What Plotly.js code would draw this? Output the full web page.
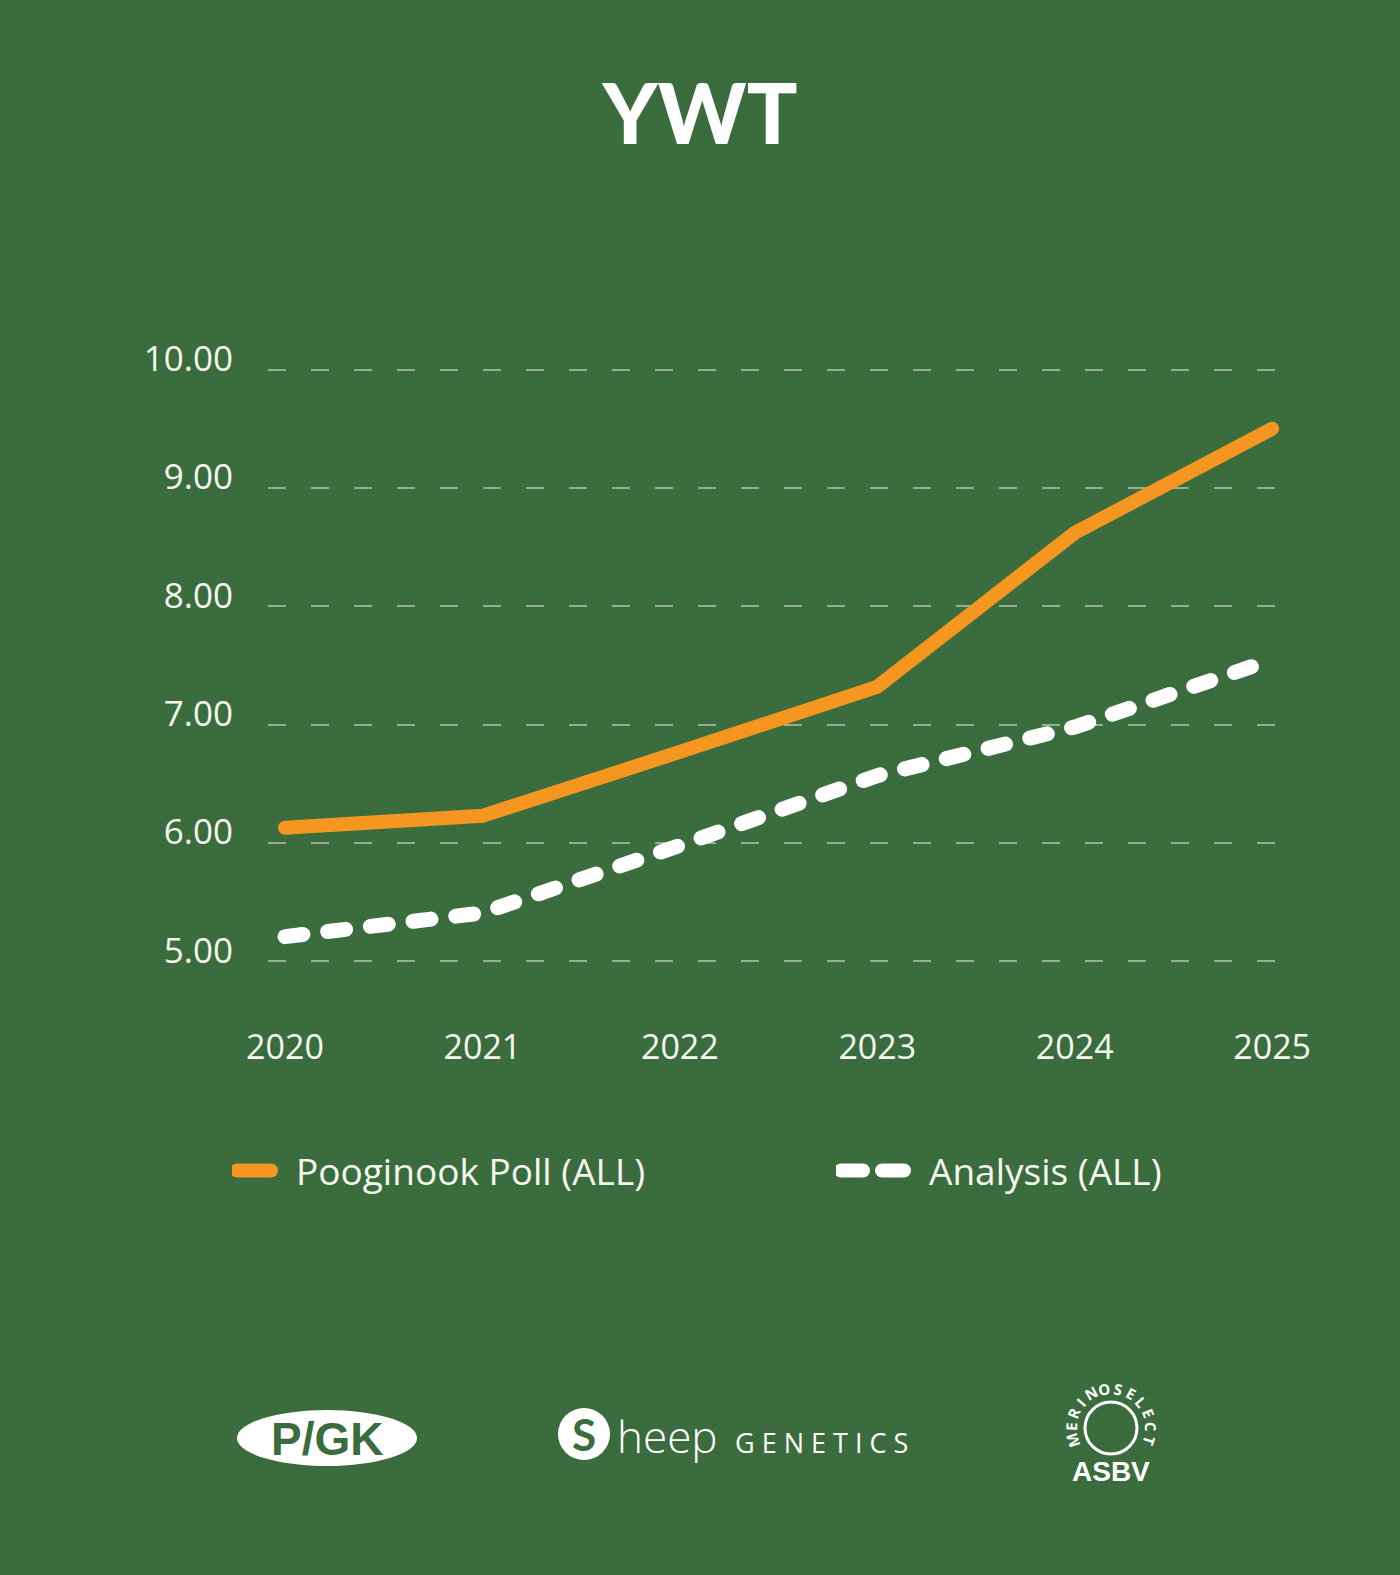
<!DOCTYPE html>
<html>
<head>
<meta charset="utf-8">
<script src="https://cdn.plot.ly/plotly-3.0.1.min.js"></script>
<style>
  html, body { margin: 0; padding: 0; background: #3b6c3e; }
  #chart { width: 1400px; height: 1575px; }
</style>
</head>
<body>
<div id="chart"></div>
<script>
// values
var years = ['2020', '2021', '2022', '2023', '2024', '2025'];
var pooginookPoll = [6.13, 6.23, 6.77, 7.32, 8.62, 9.50];
var analysis = [5.21, 5.41, 5.98, 6.57, 6.98, 7.55];
var yTicks = [5, 6, 7, 8, 9, 10];
var yTickText = ['5.00', '6.00', '7.00', '8.00', '9.00', '10.00'];

var bg = '#3b6c3e';
var orange = '#f4961f';
var textCol = '#f4f7ef';
var sans = '"Open Sans", "Noto Sans", sans-serif';

// pixel -> paper helpers for the legend and logo strip
var L = 268, R = 1282, T = 334, B = 997;
function px(x) { return (x - L) / (R - L); }
function py(y) { return (B - y) / (B - T); }

var trace1 = {
    x: years,
    y: pooginookPoll,
    type: 'scatter',
    mode: 'lines',
    name: 'Pooginook Poll (ALL)',
    line: { color: orange, width: 14 },
    legend: 'legend'
};

var trace2 = {
    x: years,
    y: analysis,
    type: 'scatter',
    mode: 'lines',
    name: 'Analysis (ALL)',
    line: { color: '#ffffff', width: 15, dash: '18px,25px' },
    legend: 'legend2'
};

// MERINOSELECT lettering round the top of the badge
var arcWord = 'MERINOSELECT';
var arcCx = 1111, arcCy = 1428, arcR = 40;
var arcLetters = arcWord.split('').map(function (ch, i) {
    var a = 198 - i * (216 / (arcWord.length - 1));
    var rad = a * Math.PI / 180;
    return {
        text: '<b>' + ch + '</b>', xref: 'paper', yref: 'paper',
        x: px(arcCx + arcR * Math.cos(rad)), y: py(arcCy - arcR * Math.sin(rad)),
        xanchor: 'center', yanchor: 'middle', textangle: 90 - a,
        showarrow: false, font: { family: sans, size: 15, weight: 800, color: '#ffffff' }
    };
});

var legendBase = {
    orientation: 'h',
    xanchor: 'left',
    y: py(1171),
    yanchor: 'middle',
    bgcolor: 'rgba(0,0,0,0)',
    font: { family: sans, size: 37, color: textCol }
};

var layout = {
    width: 1400,
    height: 1575,
    paper_bgcolor: bg,
    plot_bgcolor: bg,
    margin: { l: L, r: 1400 - R, t: T, b: 1575 - B, pad: 0 },
    font: { family: sans, color: textCol, size: 30 },
    title: {
        text: 'YWT',
        x: 0.5,
        xanchor: 'center',
        y: 1 - 115 / 1575,
        yanchor: 'middle',
        font: { family: 'Lato, sans-serif', size: 84, weight: 900, color: '#ffffff' }
    },
    xaxis: {
        type: 'category',
        range: [-0.086, 5.05],
        showgrid: false,
        zeroline: false,
        showline: false,
        ticks: '',
        ticklabelstandoff: 27,
        tickfont: { family: sans, size: 34, color: textCol }
    },
    yaxis: {
        range: [4.7, 10.3],
        tickvals: yTicks,
        ticktext: yTickText,
        showgrid: true,
        gridcolor: 'rgba(255,255,255,0.45)',
        gridwidth: 2,
        griddash: '18px,25px',
        zeroline: false,
        showline: false,
        ticks: '',
        ticklabelstandoff: 34,
        ticklabelshift: -11,
        tickfont: { family: sans, size: 35, color: textCol }
    },
    showlegend: true,
    legend: Object.assign({}, legendBase, { x: px(232), itemwidth: 54 }),
    legend2: Object.assign({}, legendBase, { x: px(836), itemwidth: 83 }),
    shapes: [
        // P/GK oval
        { type: 'circle', xref: 'paper', yref: 'paper',
          x0: px(237), x1: px(417), y0: py(1466), y1: py(1410),
          fillcolor: '#ffffff', line: { width: 0 } },
        // Sheep Genetics round mark
        { type: 'circle', xref: 'paper', yref: 'paper',
          x0: px(558), x1: px(610), y0: py(1460), y1: py(1408),
          fillcolor: '#ffffff', line: { width: 0 } },
        // MerinoSelect badge ring
        { type: 'circle', xref: 'paper', yref: 'paper',
          x0: px(arcCx - 26), x1: px(arcCx + 26), y0: py(arcCy + 26), y1: py(arcCy - 26),
          fillcolor: 'rgba(0,0,0,0)', line: { color: '#ffffff', width: 3 } }
    ],
    annotations: [
        { text: '<b>P/GK</b>', xref: 'paper', yref: 'paper', x: px(327), y: py(1439),
          xanchor: 'center', yanchor: 'middle', showarrow: false,
          font: { family: '"Liberation Sans Narrow", "Liberation Sans", sans-serif', size: 46, color: bg } },
        { text: '<b>S</b>', xref: 'paper', yref: 'paper', x: px(584), y: py(1434),
          xanchor: 'center', yanchor: 'middle', showarrow: false,
          font: { family: 'Lato, sans-serif', size: 44, color: bg } },
        { text: 'heep', xref: 'paper', yref: 'paper', x: px(615), y: py(1436),
          xanchor: 'left', yanchor: 'middle', showarrow: false,
          font: { family: sans, size: 44, weight: 300, color: '#ffffff' } },
        { text: 'G E N E T I C S', xref: 'paper', yref: 'paper', x: px(733), y: py(1442),
          xanchor: 'left', yanchor: 'middle', showarrow: false,
          font: { family: sans, size: 27, color: '#ffffff' } },
        { text: '<b>ASBV</b>', xref: 'paper', yref: 'paper', x: px(arcCx), y: py(1471),
          xanchor: 'center', yanchor: 'middle', showarrow: false,
          font: { family: '"Liberation Sans", sans-serif', size: 28, color: '#ffffff' } }
    ].concat(arcLetters)
};

Plotly.newPlot('chart', [trace1, trace2], layout, { displayModeBar: false, staticPlot: true }).then(function () {
    // rounded line ends like the original artwork
    document.querySelectorAll('#chart .scatterlayer .js-line').forEach(function (p) {
        p.style.strokeLinecap = 'round';
    });
    // legend keys: a short pill for the solid line, two pills for the dashed one
    document.querySelectorAll('#chart .infolayer .js-line').forEach(function (p) {
        p.style.strokeLinecap = 'round';
        p.style.strokeWidth = '14px';
        if (p.style.stroke.indexOf('255, 255, 255') >= 0) {
            p.style.strokeDasharray = '22px,19px,22px,200px';
        } else {
            p.style.strokeDasharray = '34px,200px';
        }
    });
});
</script>
</body>
</html>
